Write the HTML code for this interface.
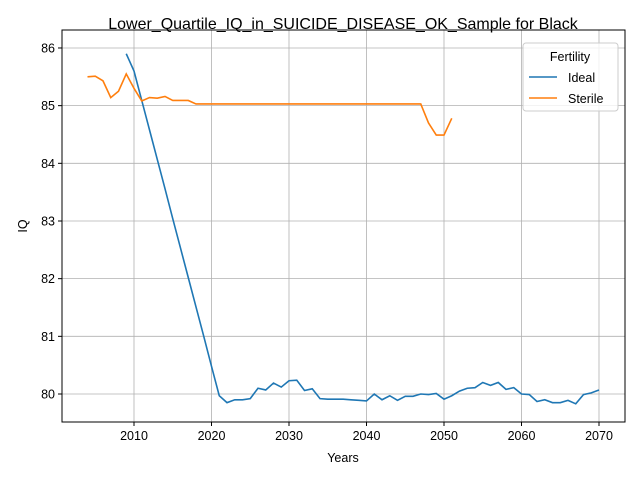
<!DOCTYPE html>
<html><head><meta charset="utf-8"><style>body{margin:0;background:#fff}svg{font-family:"Liberation Sans","DejaVu Sans",sans-serif}</style></head>
<body>
<svg id="chart" width="640" height="480">
<rect width="640" height="480" fill="#fff"/>
<g id="grid"></g>
<g id="ticks"></g>
<g id="lines"></g>
<rect x="62" y="30" width="563" height="392" fill="none" stroke="#000" stroke-width="1"/>
<text x="343" y="29" text-anchor="middle" font-size="16">Lower_Quartile_IQ_in_SUICIDE_DISEASE_OK_Sample for Black</text>
<text x="343" y="462" text-anchor="middle" font-size="12.5">Years</text>
<text x="27" y="226" text-anchor="middle" font-size="12.5" transform="rotate(-90 27 226)">IQ</text>
<g>
<rect x="523" y="43" width="95" height="68" rx="3" fill="#fff" fill-opacity="0.8" stroke="#ccc"/>
<text x="570" y="61" text-anchor="middle" font-size="12.5">Fertility</text>
<line x1="529" y1="77" x2="557" y2="77" stroke="#1f77b4" stroke-width="1.6"/>
<text x="568" y="82" font-size="12.5">Ideal</text>
<line x1="529" y1="98" x2="557" y2="98" stroke="#ff7f0e" stroke-width="1.6"/>
<text x="568" y="103" font-size="12.5">Sterile</text>
</g>
</svg>
<script>
const xTicks=[2010,2020,2030,2040,2050,2060,2070];
const yTicks=[80,81,82,83,84,85,86];
const idealYears=[2009,2010,2011,2012,2013,2014,2015,2016,2017,2018,2019,2020,2021,2022,2023,2024,2025,2026,2027,2028,2029,2030,2031,2032,2033,2034,2035,2036,2037,2038,2039,2040,2041,2042,2043,2044,2045,2046,2047,2048,2049,2050,2051,2052,2053,2054,2055,2056,2057,2058,2059,2060,2061,2062,2063,2064,2065,2066,2067,2068,2069,2070];
const idealValues=[85.9,85.6,85.09,84.58,84.07,83.56,83.04,82.53,82.02,81.51,81.0,80.48,79.97,79.85,79.9,79.9,79.92,80.1,80.07,80.19,80.12,80.23,80.24,80.06,80.09,79.92,79.91,79.91,79.91,79.9,79.89,79.88,80.0,79.9,79.97,79.89,79.96,79.96,80.0,79.99,80.01,79.91,79.97,80.05,80.1,80.11,80.2,80.15,80.2,80.08,80.11,80.0,79.99,79.87,79.9,79.85,79.85,79.89,79.83,79.99,80.02,80.07];
const sterileYears=[2004,2005,2006,2007,2008,2009,2010,2011,2012,2013,2014,2015,2016,2017,2018,2019,2020,2025,2030,2035,2040,2045,2047,2048,2049,2050,2051];
const sterileValues=[85.5,85.51,85.43,85.14,85.25,85.55,85.3,85.08,85.14,85.13,85.16,85.09,85.09,85.09,85.03,85.03,85.03,85.03,85.03,85.03,85.03,85.03,85.03,84.7,84.49,84.49,84.78];
const X=v=>134+(v-2010)*7.75;
const Y=v=>394-(v-80)*57.67;
const NS="http://www.w3.org/2000/svg";
const grid=document.getElementById('grid'),ticks=document.getElementById('ticks'),lines=document.getElementById('lines');
function mk(tag,attrs,parent){const e=document.createElementNS(NS,tag);for(const k in attrs)e.setAttribute(k,attrs[k]);parent.appendChild(e);return e;}
xTicks.forEach(t=>{
 const g=mk('line',{x1:X(t),x2:X(t),y1:30,y2:422,stroke:'#b0b0b0','stroke-width':0.8},grid);
 
 
 mk('line',{x1:X(t),x2:X(t),y1:422,y2:426,stroke:'#000'},ticks);
 const l=mk('text',{x:X(t),y:440,'text-anchor':'middle','font-size':12.5},ticks);l.textContent=t;
 
 
});
yTicks.forEach(t=>{
 const g=mk('line',{x1:62,x2:625,y1:Y(t),y2:Y(t),stroke:'#b0b0b0','stroke-width':0.8},grid);
 
 
 mk('line',{x1:58,x2:62,y1:Y(t),y2:Y(t),stroke:'#000'},ticks);
 const l=mk('text',{x:55,y:Y(t)+4.5,'text-anchor':'end','font-size':12.5},ticks);l.textContent=t;
 
 
});
function series(xs,ys,color,name){
 const p=mk('polyline',{points:xs.map((x,i)=>X(x)+','+Y(ys[i])).join(' '),fill:'none',stroke:color,'stroke-width':1.6},lines);
 
 
}
series(idealYears,idealValues,'#1f77b4','ideal-line');
series(sterileYears,sterileValues,'#ff7f0e','sterile-line');
</script>
</body></html>
